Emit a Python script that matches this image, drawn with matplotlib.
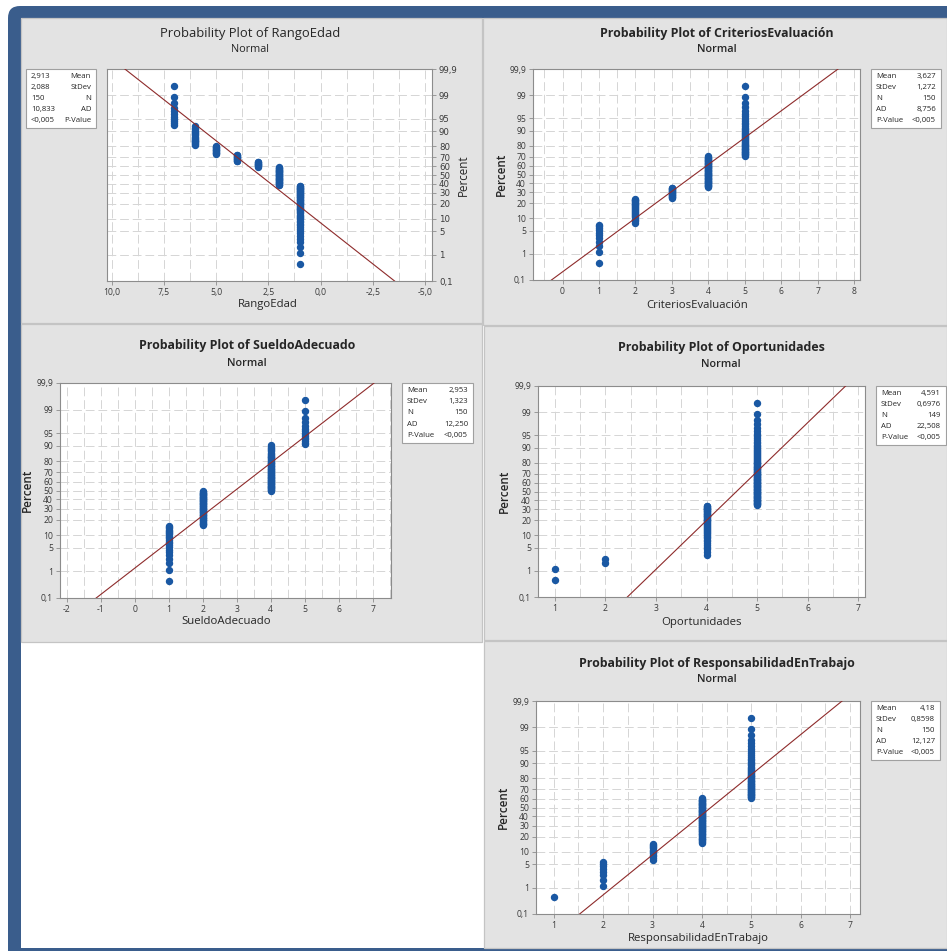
import matplotlib
matplotlib.use("Agg")
import matplotlib.pyplot as plt
from matplotlib.patches import Rectangle, FancyBboxPatch
from matplotlib.ticker import FixedLocator, MultipleLocator
import numpy as np
from statistics import NormalDist

W, H = 947, 951

# ---- data (value -> number of observations at that value) ----
rango_vals = [1, 2, 3, 4, 5, 6, 7]
rango_counts = [57, 32, 9, 11, 12, 18, 11]
rango_stats = ["2,913", "2,088", "150", "10,833", "<0,005"]

criterios_vals = [1, 2, 3, 4, 5]
criterios_counts = [11, 25, 17, 53, 44]
criterios_stats = ["3,627", "1,272", "150", "8,756", "<0,005"]

sueldo_vals = [1, 2, 4, 5]
sueldo_counts = [23, 51, 62, 14]
sueldo_stats = ["2,953", "1,323", "150", "12,250", "<0,005"]

oport_vals = [1, 2, 4, 5]
oport_counts = [2, 2, 47, 98]
oport_stats = ["4,591", "0,6976", "149", "22,508", "<0,005"]

resp_vals = [1, 2, 3, 4, 5]
resp_counts = [1, 8, 13, 69, 59]
resp_stats = ["4,18", "0,8598", "150", "12,127", "<0,005"]

stat_names = ["Mean", "StDev", "N", "AD", "P-Value"]
pct_ticks = [0.1, 1, 5, 10, 20, 30, 40, 50, 60, 70, 80, 90, 95, 99, 99.9]
pct_labels = ["0,1", "1", "5", "10", "20", "30", "40", "50", "60", "70",
              "80", "90", "95", "99", "99,9"]

BLUE_DOT = "#1a58a3"
FIT = "#8e2b2b"
PANEL = "#e3e3e3"
FRAME = "#3a5d8c"
FONT = ["Open Sans", "DejaVu Sans"]

_nd = NormalDist()
_ppf = np.vectorize(lambda v: _nd.inv_cdf(v), otypes=[float])
_cdf = np.vectorize(lambda v: _nd.cdf(v), otypes=[float])


def fwd(p):
    p = np.clip(np.asarray(p, dtype=float), 1e-10, 100 - 1e-10)
    return _ppf(p / 100.0)


def inv(z):
    return _cdf(np.asarray(z, dtype=float)) * 100.0


fig = plt.figure(figsize=(W / 100, H / 100), dpi=100)
fig.patch.set_facecolor("white")

bg = fig.add_axes([0, 0, 1, 1])
bg.set_xlim(0, W)
bg.set_ylim(H, 0)
bg.axis("off")
bg.add_patch(FancyBboxPatch((8, 6), 980, 990, boxstyle="round,pad=0,rounding_size=12",
                            facecolor=FRAME, edgecolor="none"))
bg.add_patch(Rectangle((21, 18), 940, 930, facecolor="white", edgecolor="none"))
for (x0, y0, x1, y1) in [(21, 18, 482, 323), (483, 18, 947, 325), (21, 324, 482, 642),
                         (484, 326, 947, 640), (484, 641, 947, 948)]:
    bg.add_patch(Rectangle((x0, y0), x1 - x0, y1 - y0, facecolor=PANEL,
                           edgecolor="#c4c4c4", lw=0.9))


def ftxt(x, y, s, **kw):
    kw.setdefault("family", FONT)
    kw.setdefault("color", "#262626")
    fig.text(x / W, 1 - y / H, s, **kw)


def panel(box, vals, counts, stats, xlim, xticks, xticklabels, minor,
          title, xlabel, title_xy, normal_y, xlabel_xy, ylabel_x,
          stat_box, mirrored=False):
    l, t, r, b = box
    ax = fig.add_axes([l / W, 1 - b / H, (r - l) / W, (b - t) / H])
    ax.set_yscale("function", functions=(fwd, inv))
    ax.set_facecolor("white")

    n = sum(counts)
    xs = np.repeat(vals, counts)
    ranks = np.arange(1, n + 1)
    ps = (ranks - 0.3) / (n + 0.4) * 100.0
    mean = float(stats[0].replace(",", "."))
    sd = float(stats[1].replace(",", "."))

    ax.plot(xs, ps, "o", ms=4.3, color=BLUE_DOT, mec=BLUE_DOT, zorder=3)
    lx = np.array(xlim)
    ly = np.array([NormalDist(mean, sd).cdf(v) * 100 for v in lx])
    ax.plot(lx, ly, color=FIT, lw=0.8, zorder=4)

    ax.set_xlim(*xlim)
    ax.set_ylim(0.1, 99.9)
    ax.xaxis.set_major_locator(FixedLocator(xticks))
    ax.set_xticklabels(xticklabels)
    ax.xaxis.set_minor_locator(MultipleLocator(minor))
    ax.yaxis.set_major_locator(FixedLocator(pct_ticks))
    ax.yaxis.set_minor_locator(FixedLocator([]))
    ax.set_yticklabels(pct_labels)

    gkw = dict(color="#d5d5d5", lw=0.7, linestyle=(0, (9, 4)))
    ax.grid(True, axis="x", which="both", **gkw)
    ax.grid(True, axis="y", which="major", **gkw)
    ax.set_axisbelow(True)

    for s in ax.spines.values():
        s.set_color("#8c8c8c")
        s.set_linewidth(0.8)
    ax.tick_params(which="major", length=3, width=0.6, color="#8c8c8c",
                   labelsize=6.2, labelcolor="#3a3a3a", pad=2)
    ax.tick_params(which="minor", length=0)
    for lab in ax.get_xticklabels() + ax.get_yticklabels():
        lab.set_family(FONT)
    if mirrored:
        ax.yaxis.tick_right()

    weight = "normal" if mirrored else "bold"
    ftxt(title_xy[0], title_xy[1], title, ha="center", va="center",
         fontsize=9.4 if mirrored else 8.9, fontweight=weight)
    ftxt(title_xy[0], normal_y, "Normal", ha="center", va="center",
         fontsize=7.8, fontweight="normal" if mirrored else "semibold")
    ftxt(xlabel_xy[0], xlabel_xy[1], xlabel, ha="center", va="center",
         fontsize=8.2)
    ftxt(ylabel_x, (t + b) / 2, "Percent", ha="center", va="center",
         rotation=90, fontsize=8.4, fontweight="normal" if mirrored else "semibold")

    bx0, by0, bx1, by1 = stat_box
    bg.add_patch(Rectangle((bx0, by0), bx1 - bx0, by1 - by0, facecolor="white",
                           edgecolor="#a0a0a0", lw=0.8))
    rowh = (by1 - by0) / 5.4
    for k, (nm, v) in enumerate(zip(stat_names, stats)):
        yy = by0 + rowh * (k + 0.7)
        if mirrored:
            ftxt(bx1 - 5, yy, nm, ha="right", va="center", fontsize=5.6)
            ftxt(bx0 + 5, yy, v, ha="left", va="center", fontsize=5.6)
        else:
            ftxt(bx0 + 5, yy, nm, ha="left", va="center", fontsize=5.6)
            ftxt(bx1 - 5, yy, v, ha="right", va="center", fontsize=5.6)
    return ax


# panel 1 (mirrored view)
panel((107, 69, 432, 281), rango_vals, rango_counts, rango_stats,
      (10.22, -5.33), [10, 7.5, 5, 2.5, 0, -2.5, -5],
      ["10,0", "7,5", "5,0", "2,5", "0,0", "-2,5", "-5,0"], 1.25,
      "Probability Plot of RangoEdad", "RangoEdad", (250, 33), 50, (268, 305), 463,
      (26, 69, 96, 128), mirrored=True)

panel((533, 69, 860, 280), criterios_vals, criterios_counts, criterios_stats,
      (-0.81, 8.16), list(range(0, 9)), [str(v) for v in range(0, 9)], 0.5,
      "Probability Plot of CriteriosEvaluación", "CriteriosEvaluación",
      (717, 33), 49, (697, 305), 501, (871, 69, 941, 128))

panel((60, 383, 391, 598), sueldo_vals, sueldo_counts, sueldo_stats,
      (-2.2, 7.54), list(range(-2, 8)), [str(v) for v in range(-2, 8)], 0.5,
      "Probability Plot of SueldoAdecuado", "SueldoAdecuado",
      (247, 346), 363, (226, 622), 27, (402, 383, 473, 443))

panel((538, 386, 865, 597), oport_vals, oport_counts, oport_stats,
      (0.67, 7.13), list(range(1, 8)), [str(v) for v in range(1, 8)], 0.5,
      "Probability Plot of Oportunidades", "Oportunidades",
      (721, 348), 364, (701, 622), 504, (876, 386, 946, 445))

panel((536, 701, 860, 914), resp_vals, resp_counts, resp_stats,
      (0.64, 7.2), list(range(1, 8)), [str(v) for v in range(1, 8)], 0.5,
      "Probability Plot of ResponsabilidadEnTrabajo", "ResponsabilidadEnTrabajo",
      (717, 663), 679, (698, 938), 503, (871, 701, 940, 760))

fig.savefig("out.png", dpi=100)
